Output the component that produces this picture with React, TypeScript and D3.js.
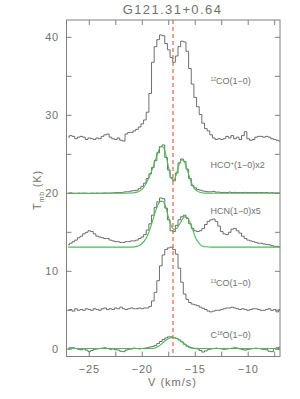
import React from "react";
import * as d3 from "d3";

// ---------- DATA ----------
const title = "G121.31+0.64";
const velStart = -27.0;
const velStep = 0.25;

const co12 = [27.2,27.4,27.3,27.0,27.2,27.3,27.2,26.9,27.1,27.0,26.9,27.1,27.0,27.3,27.5,27.6,27.2,27.0,26.9,27.1,26.8,26.7,27.6,27.8,27.8,28.0,28.2,28.5,28.9,29.4,30.4,32.8,36.8,38.8,39.7,40.3,40.2,39.2,38.4,37.4,36.8,37.6,38.8,39.5,39.4,38.2,36.0,34.0,32.3,31.1,30.1,29.0,28.3,28.0,27.5,27.1,26.9,27.0,26.9,27.0,27.3,27.1,27.4,27.0,27.2,26.9,27.4,27.9,27.0,26.8,26.9,27.2,27.3,27.3,27.2,27.3,27.2,27.0,26.9,26.8,26.7];

const hco = [20.0,20.05,20.0,19.98,20.02,20.0,20.03,20.0,19.98,20.02,20.0,20.03,20.0,20.02,20.05,20.02,20.04,20.05,20.08,20.1,20.1,20.15,20.2,20.2,20.3,20.35,20.4,20.6,20.9,21.3,21.9,22.5,23.3,24.2,25.2,26.0,26.2,24.6,23.0,22.0,21.6,22.6,23.9,24.4,24.1,23.1,21.9,21.0,20.7,20.5,20.4,20.3,20.25,20.2,20.2,20.25,20.15,20.15,20.1,20.12,20.1,20.15,20.1,20.12,20.1,20.08,20.1,20.12,20.1,20.08,20.1,20.1,20.08,20.1,20.08,20.1,20.05,20.08,20.05,20.05,20.05];

const hcn = [13.4,13.6,13.8,14.0,14.3,14.5,14.8,15.0,15.2,15.1,14.8,14.5,14.4,14.3,14.2,14.2,14.0,13.9,13.8,13.8,13.7,13.7,13.8,13.8,13.9,13.9,14.0,14.2,14.4,14.7,15.3,16.1,17.2,18.2,18.9,19.4,19.3,18.1,16.6,15.2,15.1,15.9,16.6,17.0,17.2,16.8,16.1,15.5,15.2,15.1,15.2,15.5,16.0,16.4,16.6,16.7,16.4,15.8,15.1,14.8,14.7,15.0,15.4,15.5,15.2,14.9,14.5,14.2,14.0,13.9,13.8,13.7,13.6,13.6,13.5,13.45,13.4,13.3,13.2,13.2,13.15];

const co13 = [5.0,5.1,4.9,5.2,5.0,5.1,5.0,5.2,5.1,5.0,5.2,5.1,5.0,5.2,5.3,5.1,5.2,5.1,5.3,5.2,5.4,5.2,5.1,5.2,5.3,5.2,5.2,5.3,5.2,5.3,5.3,5.5,6.2,7.3,8.8,10.7,12.1,12.8,13.0,13.1,12.8,12.2,10.4,8.6,7.1,6.4,6.0,5.8,5.7,5.6,5.4,5.25,5.1,4.9,4.8,4.9,5.0,5.0,5.1,5.2,5.3,5.3,5.4,5.3,5.2,5.1,5.2,5.1,5.0,5.1,5.2,5.2,5.1,5.0,5.0,5.1,5.2,5.0,5.1,4.8,5.1];

const c18o = [0.15,0.2,0.2,0.1,0.0,-0.05,0.05,-0.1,-0.3,-0.15,0.0,0.05,0.1,0.15,0.2,0.1,0.0,0.05,-0.05,-0.1,-0.25,-0.3,-0.1,0.0,0.05,0.15,0.1,0.05,0.1,0.15,0.2,0.3,0.35,0.5,0.75,1.0,1.25,1.45,1.6,1.6,1.5,1.4,1.2,0.95,0.65,0.4,0.2,0.15,0.1,0.05,-0.15,-0.35,-0.2,-0.05,0.05,0.1,0.15,0.1,0.05,0.0,0.05,0.1,0.15,0.2,0.15,0.05,-0.05,-0.1,0.0,0.05,0.1,0.15,0.1,0.05,0.0,-0.05,-0.25,-0.3,0.1,0.2,0.3];

// Model fits (green)
const fitHcoVel = [-27,-22,-21,-20.5,-20.25,-20,-19.75,-19.5,-19.25,-19,-18.75,-18.5,-18.25,-18,-17.75,-17.5,-17.25,-17,-16.75,-16.5,-16.25,-16,-15.75,-15.5,-15.25,-15,-14.75,-14.5,-14,-13,-7];
const fitHcoT = [20.0,20.0,20.05,20.15,20.3,20.55,21.0,21.6,22.4,23.3,24.3,25.3,26.0,25.9,24.8,23.2,21.9,21.7,22.6,23.8,24.3,24.0,23.0,21.9,21.0,20.5,20.25,20.1,20.02,20.0,20.0];

const fitHcnVel = [-27,-21,-20.5,-20.25,-20,-19.75,-19.5,-19.25,-19,-18.75,-18.5,-18.25,-18,-17.75,-17.5,-17.25,-17,-16.75,-16.5,-16.25,-16,-15.75,-15.5,-15.25,-15,-14.75,-14.5,-14.25,-14,-13.5,-7];
const fitHcnT = [13.1,13.1,13.2,13.35,13.6,14.0,14.6,15.5,16.6,17.7,18.6,19.0,18.9,18.1,16.8,15.8,15.35,15.5,16.0,16.6,17.0,16.9,16.3,15.4,14.4,13.8,13.4,13.2,13.15,13.1,13.1];

const fitC18oVel = [-27,-19,-18.75,-18.5,-18.25,-18,-17.75,-17.5,-17.25,-17,-16.75,-16.5,-16.25,-16,-15.75,-15.5,-15.25,-15,-14.5,-7];
const fitC18oT = [0.1,0.1,0.2,0.35,0.6,0.9,1.2,1.4,1.5,1.5,1.4,1.2,0.95,0.7,0.45,0.3,0.18,0.12,0.1,0.1];

const systemicVelocity = [-17.1];

const xTicks = [-25, -22.5, -20, -17.5, -15, -12.5, -10, -7.5];
const xTickLabels = [-25, -20, -15, -10];
const yTicks = [0, 5, 10, 15, 20, 25, 30, 35, 40];
const yTickLabels = [0, 10, 20, 30, 40];

// ---------- LAYOUT ----------
const W = 300, H = 399;
const left = 66.5, right = 280, top = 20, bottom = 356.5;
const textColor = "#707070";
const axisColor = "#808080";
const font = "'Liberation Sans', Arial, sans-serif";

export default function App() {
  const x = d3.scaleLinear().domain([-27.15, -7.0]).range([left, right]);
  const y = d3.scaleLinear().domain([-0.92, 42.22]).range([bottom, top]);

  const vel = (arr: number[]) => arr.map((_, i) => velStart + i * velStep);
  const stepLine = (vals: number[]) => {
    const v = vel(vals);
    return d3.line<number>().x((_, i) => x(v[i])).y((d) => y(d)).curve(d3.curveStep)(vals) || "";
  };
  const smoothLine = (vs: number[], ts: number[]) =>
    d3.line<number>().x((d) => x(d)).y((_, i) => y(ts[i])).curve(d3.curveMonotoneX)(vs) || "";

  const spectra = [co12, hco, hcn, co13, c18o];
  const fits: [number[], number[]][] = [
    [fitHcoVel, fitHcoT],
    [fitHcnVel, fitHcnT],
    [fitC18oVel, fitC18oT],
  ];

  const labelStyle = { fontFamily: font, fontSize: 9, fill: textColor } as const;

  return (
    <svg width={W} height={H} style={{ position: "absolute", left: 0, top: 0, background: "#fff" }}>
      <defs>
        <clipPath id="plotclip">
          <rect x={left} y={top} width={right - left} height={bottom - top} />
        </clipPath>
      </defs>
      <text x={172.5} y={14} textAnchor="middle" fontFamily={font} fontSize={13} letterSpacing={1.4} fill={textColor}>
        {title}
      </text>

      <g clipPath="url(#plotclip)">
        {spectra.map((s, i) => (
          <path key={"s" + i} d={stepLine(s)} fill="none" stroke="#555" strokeWidth={0.85} />
        ))}
        {fits.map(([vs, ts], i) => (
          <path key={"f" + i} d={smoothLine(vs, ts)} fill="none" stroke="#4cbb55" strokeWidth={1.1} />
        ))}
        {systemicVelocity.map((v, i) => (
          <line key={"v" + i} x1={x(v)} x2={x(v)} y1={top} y2={bottom} stroke="#e0653e" strokeWidth={1.2} strokeDasharray="4,3" />
        ))}
      </g>

      {/* frame */}
      <rect x={left} y={top} width={right - left} height={bottom - top} fill="none" stroke={axisColor} strokeWidth={1} />

      {/* x ticks */}
      {xTicks.map((t) => (
        <g key={"xt" + t}>
          <line x1={x(t)} x2={x(t)} y1={bottom} y2={bottom - 5} stroke={axisColor} />
          <line x1={x(t)} x2={x(t)} y1={top} y2={top + 5} stroke={axisColor} />
        </g>
      ))}
      {xTickLabels.map((t) => (
        <text key={"xl" + t} x={x(t)} y={373} textAnchor="middle" fontFamily={font} fontSize={11} letterSpacing={0.8} fill={textColor}>
          {"\u2212" + Math.abs(t)}
        </text>
      ))}
      <text x={172.5} y={386} textAnchor="middle" fontFamily={font} fontSize={11} letterSpacing={1} fill={textColor}>
        V (km/s)
      </text>

      {/* y ticks */}
      {yTicks.map((t) => (
        <g key={"yt" + t}>
          <line x1={left} x2={left + 5} y1={y(t)} y2={y(t)} stroke={axisColor} />
          <line x1={right} x2={right - 5} y1={y(t)} y2={y(t)} stroke={axisColor} />
        </g>
      ))}
      {yTickLabels.map((t) => (
        <text key={"yl" + t} x={59} y={y(t) + 4} textAnchor="end" fontFamily={font} fontSize={11} letterSpacing={0.8} fill={textColor}>
          {t}
        </text>
      ))}
      <text transform="translate(41,190) rotate(-90)" textAnchor="middle" fontFamily={font} fontSize={11} fill={textColor} letterSpacing={0.8}>
        T<tspan fontSize={7} dy={2.5}>mb</tspan><tspan dy={-2.5}>{" (K)"}</tspan>
      </text>

      {/* line labels */}
      <text x={210.5} y={84} {...labelStyle}>
        <tspan fontSize={5} dy={-3}>12</tspan><tspan dy={3}>CO(1{"\u2212"}0)</tspan>
      </text>
      <text x={210.5} y={168} {...labelStyle}>
        HCO<tspan fontSize={6} dy={-3}>+</tspan><tspan dy={3}>(1{"\u2212"}0)x2</tspan>
      </text>
      <text x={210.5} y={214} {...labelStyle}>
        HCN(1{"\u2212"}0)x5
      </text>
      <text x={210.5} y={285.5} {...labelStyle}>
        <tspan fontSize={5} dy={-3}>13</tspan><tspan dy={3}>CO(1{"\u2212"}0)</tspan>
      </text>
      <text x={210.5} y={337.5} {...labelStyle}>
        C<tspan fontSize={5} dy={-3}>18</tspan><tspan dy={3}>O(1{"\u2212"}0)</tspan>
      </text>
    </svg>
  );
}
